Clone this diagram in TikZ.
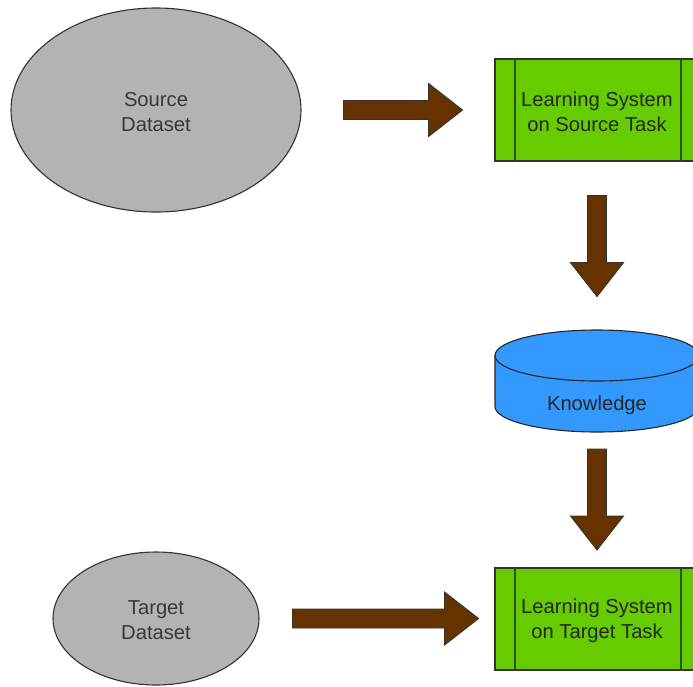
\documentclass[tikz,border=0pt]{standalone}
\usepackage{fontspec}
\setmainfont{Liberation Sans}
\usetikzlibrary{calc,shapes.geometric}

\definecolor{datagrey}{HTML}{B3B3B3}
\definecolor{sysgreen}{HTML}{66CC00}
\definecolor{sysline}{HTML}{2A5200}
\definecolor{knowblue}{HTML}{3399FF}
\definecolor{flowbrown}{HTML}{663300}
\definecolor{edgegrey}{HTML}{333333}

\tikzset{
  labelfont/.style={font=\fontsize{20.2}{25}\selectfont, align=center},
  dataset/.style={ellipse, draw=edgegrey, line width=1.1pt, fill=datagrey,
    inner sep=0pt, labelfont, text=black!78},
  system/.style={rectangle, draw=edgegrey, line width=1.2pt, fill=sysgreen,
    minimum width=206pt, minimum height=102pt, inner sep=0pt, labelfont, text=black!85},
  sysrule/.style={draw=sysline, line width=2pt},
  cylbody/.style={fill=knowblue, draw=black!85, line width=1.1pt},
  flow/.style={fill=flowbrown, draw=black!80, line width=0.9pt, line join=miter},
  % thick block arrow of length #1, pointing along +x
  pics/blockarrow/.style={code={
    \path[flow] (0,-9.5) -- ({#1-34},-9.5) -- ({#1-34},-26.5) -- (#1,0)
      -- ({#1-34},26.5) -- ({#1-34},9.5) -- (0,9.5) -- cycle;
  }}
}

\begin{document}
\begin{tikzpicture}[x=1pt,y=1pt]
  \useasboundingbox (0,0) rectangle (693,-686);
  \clip (0,0) rectangle (693,-686);

  % datasets
  \node[dataset, minimum width=290pt, minimum height=204pt] (src) at (156,-110) {};
  \node[labelfont, text=black!78] at ([yshift=-2pt]src.center) {Source\\Dataset};
  \node[dataset, minimum width=206pt, minimum height=133pt] (tgt) at (156,-618.5) {};
  \node[labelfont, text=black!78] at ([yshift=-2pt]tgt.center) {Target\\Dataset};

  % learning systems
  \node[system] (ls1) at (598,-110) {};
  \node[labelfont, text=black!85] at ([shift={(-1pt,-2pt)}]ls1.center) {Learning System\\on Source Task};
  \node[system] (ls2) at (598,-619) {};
  \node[labelfont, text=black!85] at ([shift={(-1pt,-2pt)}]ls2.center) {Learning System\\on Target Task};
  \foreach \n in {ls1,ls2} {
    \draw[sysrule] ([xshift=21pt]\n.north west) -- ([xshift=21pt]\n.south west);
    \draw[sysrule] ([xshift=-21pt]\n.north east) -- ([xshift=-21pt]\n.south east);
  }

  % knowledge store
  \coordinate (kntop) at (597,-355.5);
  \path[cylbody] ($(kntop)+(-102,0)$) -- ++(0,-51)
    arc[start angle=180, end angle=360, x radius=102pt, y radius=25.5pt]
    -- ++(0,51)
    arc[start angle=0, end angle=180, x radius=102pt, y radius=25.5pt] -- cycle;
  \draw[cylbody, fill=none] ($(kntop)+(-102,0)$)
    arc[start angle=180, end angle=360, x radius=102pt, y radius=25.5pt];
  \node[labelfont, text=black!85] (kn) at (597,-405) {Knowledge};

  % flow arrows
  \pic at ($(src.east)+(42,0)$) {blockarrow=119};
  \pic[rotate=-90] at ($(ls1.south)+(-1,-34)$) {blockarrow=101};
  \pic[rotate=-90] at ($(kntop)+(0,-93.5)$) {blockarrow=101};
  \pic at ($(tgt.east)+(33,0)$) {blockarrow=186};
\end{tikzpicture}
\end{document}
